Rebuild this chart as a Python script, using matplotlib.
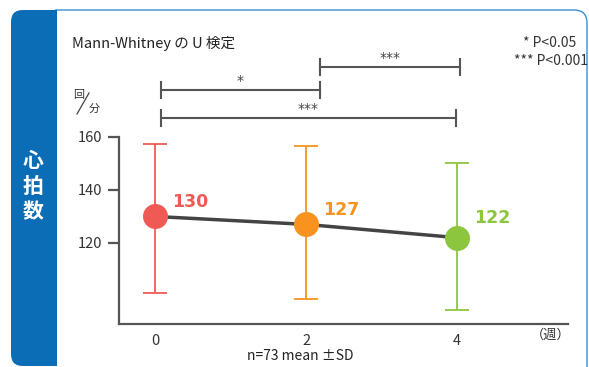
import matplotlib
matplotlib.use("Agg")
import matplotlib.pyplot as plt
from matplotlib.patches import FancyBboxPatch, PathPatch
from matplotlib.path import Path
from matplotlib.lines import Line2D

plt.rcParams['font.family'] = ['Noto Sans CJK JP', 'DejaVu Sans']

weeks = [0, 2, 4]
means = [130, 127, 122]
upper = [157.5, 156.5, 150]
lower = [101, 99, 94.5]
colors = ['#f05a55', '#f7931e', '#8cc63f']
yticks = [120, 140, 160]

fig = plt.figure(figsize=(5.89, 3.67), dpi=100)
W, H = 589, 367

def fx(px):
    return px / W

def fy(py):
    return 1 - py / H

blue = '#0b6db5'
# thin border along the top, rounding down at the right edge
verts = [(fx(55), fy(10)), (fx(574), fy(10)), (fx(587), fy(10)), (fx(587), fy(23)),
         (fx(587), fy(400))]
codes = [Path.MOVETO, Path.LINETO, Path.CURVE3, Path.CURVE3, Path.LINETO]
fig.add_artist(PathPatch(Path(verts, codes), transform=fig.transFigure,
                         facecolor='none', edgecolor='#3a8fd0', lw=1.0, zorder=0))
# blue left panel
fig.add_artist(FancyBboxPatch((fx(11), fy(366)), fx(57) - fx(11), fy(10) - fy(366),
                              boxstyle="round,pad=0,rounding_size=0.02",
                              transform=fig.transFigure, facecolor=blue,
                              edgecolor='none', zorder=1, mutation_aspect=W / H))
fig.add_artist(plt.Rectangle((fx(30), fy(366)), fx(57) - fx(30), fy(10) - fy(366),
                             transform=fig.transFigure, facecolor=blue,
                             edgecolor='none', zorder=1))
for i, ch in enumerate('心拍数'):
    fig.text(fx(33), fy(161 + i * 25.5), ch, color='white', fontsize=15,
             fontweight='bold', ha='center', va='center', zorder=2)

ax = fig.add_axes([fx(119), fy(324), fx(568) - fx(119), fy(137) - fy(324)])
ax.set_xlim(-0.48, 5.47)
ax.set_ylim(89.4, 160)
for s in ['top', 'right']:
    ax.spines[s].set_visible(False)
for s in ['left', 'bottom']:
    ax.spines[s].set_color('#555555')
    ax.spines[s].set_linewidth(1.6)
ax.set_yticks(yticks)
ax.set_yticklabels([str(v) for v in yticks], fontsize=10.5, color='#333333')
ax.tick_params(axis='y', length=8, width=1.6, color='#555555', pad=4)
ax.set_xticks(weeks)
ax.set_xticklabels([str(w) for w in weeks], fontsize=10.5, color='#333333')
ax.tick_params(axis='x', length=0, pad=7)
ax.patch.set_alpha(0)

ax.plot(weeks, means, color='#444444', linewidth=2.5, zorder=3)
for x, m, u, l, c in zip(weeks, means, upper, lower, colors):
    ax.errorbar([x], [m], yerr=[[m - l], [u - m]], fmt='none', ecolor=c,
                elinewidth=1.3, capsize=8.5, capthick=1.3, zorder=2)
    ax.plot([x], [m], 'o', color=c, markersize=17, zorder=4)

offsets = [(0.22, 5.5), (0.22, 5.5), (0.22, 7.5)]
for x, m, c, (dx, dy) in zip(weeks, means, colors, offsets):
    ax.text(x + dx, m + dy, str(m), color=c, fontsize=12.5, fontweight='bold',
            ha='left', va='center', family='DejaVu Sans')

ax.text(5.24, 89.4 - 4.3, '（週）', fontsize=9.5, color='#333333', ha='center', va='center')

# significance brackets
def bracket(x0, x1, y, label):
    ax.plot([x0, x1], [y, y], color='#555555', lw=1.5, clip_on=False)
    for xx in (x0, x1):
        ax.plot([xx, xx], [y - 3, y + 3], color='#555555', lw=1.5, clip_on=False)
    ax.text((x0 + x1) / 2, y + 0.8, label, ha='center', va='bottom', fontsize=10,
            color='#444444', clip_on=False, family='DejaVu Sans')

bracket(0.07, 2.19, 177.7, '*')
bracket(2.19, 4.04, 186.4, '***')
bracket(0.07, 3.99, 167.2, '***')

fig.text(fx(72), fy(43), 'Mann-Whitney の U 検定', fontsize=10.5, color='#222222',
         ha='left', va='center')
fig.text(fx(576), fy(43), '* P<0.05', fontsize=10, color='#333333', ha='right', va='center')
fig.text(fx(588), fy(61), '*** P<0.001', fontsize=10, color='#333333', ha='right', va='center')

fig.text(fx(300), fy(356), 'n=73 mean ±SD', fontsize=10, color='#222222',
         ha='center', va='center')

# unit label 回/分
fig.text(fx(79), fy(95), '回', fontsize=8, color='#333333', ha='center', va='center')
fig.text(fx(94), fy(109), '分', fontsize=8, color='#333333', ha='center', va='center')
fig.add_artist(Line2D([fx(77), fx(89)], [fy(114), fy(93)], transform=fig.transFigure,
                      color='#444444', lw=0.9))

fig.savefig('out.png', dpi=100)
